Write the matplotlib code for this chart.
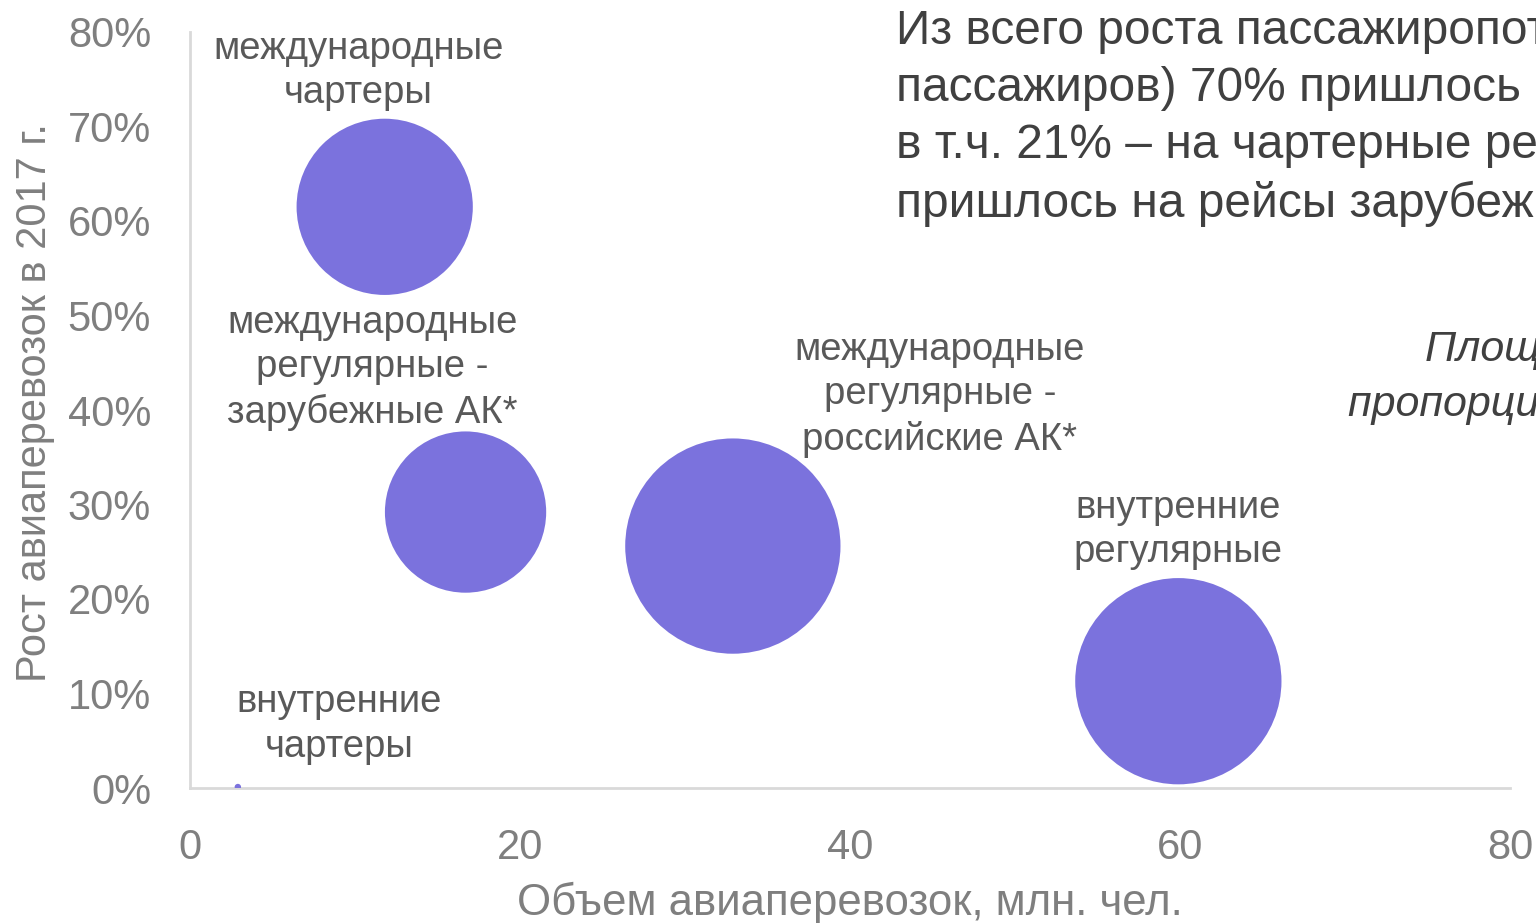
import matplotlib
matplotlib.use("Agg")
import matplotlib.pyplot as plt
from matplotlib.ticker import FuncFormatter

# данные: объем перевозок (млн чел.), рост в 2017 г. (%), прирост пассажиров (млн) = площадь кругов
labels = ["международные\nчартеры",
          "международные\nрегулярные -\nзарубежные АК*",
          "международные\nрегулярные -\nроссийские АК*",
          "внутренние\nрегулярные",
          "внутренние\nчартеры"]
volume = [11.8, 16.7, 32.9, 59.9, 2.9]
growth = [61.5, 29.2, 25.6, 11.3, 0.1]
increase = [4.49, 3.76, 6.7, 6.15, 0.006]

# смещение подписей от центра круга (в пунктах)
label_offsets = [(-19, 98), (-67, 104), (149, 109), (0, 109), (73, 45)]

bubble_color = "#7b72dd"
grey = "#7f7f7f"
label_grey = "#595959"
dark = "#404040"

plt.rcParams["font.family"] = ["Liberation Sans", "DejaVu Sans"]

fig = plt.figure(figsize=(15.36, 9.23), dpi=100)
ax = fig.add_axes([190 / 1536, 1 - 788 / 923, 1320 / 1536, 756 / 923])

# площадь кругов пропорциональна приросту; самый большой круг ~155 pt в диаметре
s_max = 155.0 ** 2
sizes = [v / max(increase) * s_max for v in increase]
ax.scatter(volume, growth, s=sizes, color=bubble_color, edgecolors="none", zorder=3)

for x, y, t, off in zip(volume, growth, labels, label_offsets):
    ax.annotate(t, (x, y), xytext=off, textcoords="offset points",
                ha="center", va="center", fontsize=27.5, color=label_grey,
                linespacing=1.3)

ax.set_xlim(0, 80)
ax.set_ylim(0, 80)
ax.set_xticks([0, 20, 40, 60, 80])
ax.set_yticks(range(0, 81, 10))
ax.yaxis.set_major_formatter(FuncFormatter(lambda v, p: f"{v:.0f}%"))
ax.tick_params(length=0, labelsize=30, labelcolor=grey)
ax.tick_params(axis="x", pad=29)
ax.tick_params(axis="y", pad=28)

for side in ["top", "right"]:
    ax.spines[side].set_visible(False)
for side in ["left", "bottom"]:
    ax.spines[side].set_color("#d9d9d9")
    ax.spines[side].set_linewidth(2)

narrow = ["Liberation Sans Narrow", "Liberation Sans", "DejaVu Sans"]
ax.set_xlabel("Объем авиаперевозок, млн. чел.", fontsize=31.5, color=grey,
              family=narrow)
ax.xaxis.set_label_coords(0.5, -(903 - 788) / 756)
ax.xaxis.label.set_va("center")
ax.set_ylabel("Рост авиаперевозок в 2017 г.", fontsize=30, color=grey)
ax.yaxis.set_label_coords(-(190 - 35) / 1320, (788 - 403) / 756)
ax.yaxis.label.set_va("center")

fig.text(896 / 1536, 1 - 9 / 923,
         "Из всего роста пассажиропотока (+18 млн.\n"
         "пассажиров) 70% пришлось на международные,\n"
         "в т.ч. 21% – на чартерные рейсы. 27%\n"
         "пришлось на рейсы зарубежных АК",
         fontsize=34.5, color=dark, family=narrow, va="top", ha="left",
         linespacing=1.33)

fig.text(1425 / 1536, 1 - 350 / 923, "Площадь кругов", fontsize=31,
         style="italic", color=dark, va="center", ha="left")
fig.text(1348 / 1536, 1 - 405 / 923, "пропорциональна приросту", fontsize=31,
         style="italic", color=dark, va="center", ha="left")

fig.savefig("out.png", dpi=100)
